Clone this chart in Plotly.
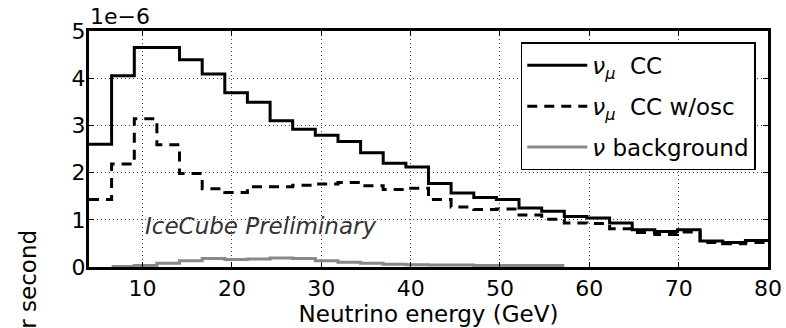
import plotly.graph_objects as go

# Bin edges (GeV)
bin_edges = [4.0, 6.53, 9.07, 11.6, 14.13, 16.67, 19.2, 21.73, 24.27, 26.8,
             29.33, 31.87, 34.4, 36.93, 39.47, 42.0, 44.53, 47.07, 49.6, 52.13,
             54.67, 57.2, 59.73, 62.27, 64.8, 67.33, 69.87, 72.4, 74.93, 77.47, 80.0]

# Rates (units of 1e-6 per second)
numu_cc = [2.60, 4.05, 4.65, 4.65, 4.39, 4.09, 3.69, 3.49, 3.10, 2.92,
           2.79, 2.66, 2.42, 2.20, 2.12, 1.77, 1.57, 1.47, 1.43, 1.25,
           1.18, 1.07, 1.04, 0.93, 0.79, 0.75, 0.79, 0.55, 0.52, 0.56]
numu_cc_osc = [1.43, 2.18, 3.14, 2.59, 1.98, 1.66, 1.58, 1.70, 1.70, 1.73,
               1.76, 1.79, 1.72, 1.64, 1.67, 1.43, 1.27, 1.22, 1.23, 1.10,
               1.01, 0.93, 0.92, 0.81, 0.73, 0.69, 0.74, 0.52, 0.49, 0.52]
nu_background = [0.00, 0.01, 0.03, 0.08, 0.13, 0.18, 0.16, 0.17, 0.19, 0.18,
                 0.13, 0.10, 0.08, 0.06, 0.05, 0.04, 0.04, 0.03, 0.03, 0.03,
                 0.03, 0.00, 0.00, 0.00, 0.00, 0.00, 0.00, 0.00, 0.00, 0.00]

x_ticks = [10, 20, 30, 40, 50, 60, 70, 80]
y_ticks = [0, 1, 2, 3, 4, 5]

FONT = "DejaVu Sans"
TICK_SIZE = 22
LABEL_SIZE = 23


def step_xy(edges, vals, trim_zeros=False):
    lo, hi = 0, len(vals)
    if trim_zeros:
        while lo < hi and vals[lo] == 0:
            lo += 1
        while hi > lo and vals[hi - 1] == 0:
            hi -= 1
    xs = list(edges[lo:hi + 1])
    ys = list(vals[lo:hi]) + [vals[hi - 1]]
    return xs, ys


fig = go.Figure()
x1, y1 = step_xy(bin_edges, numu_cc)
fig.add_trace(go.Scatter(
    x=x1, y=y1, mode="lines", line_shape="hv",
    line=dict(color="black", width=3),
    name="<i>ν</i><sub><i>μ</i></sub>  CC", legendgroup="a"))
x2, y2 = step_xy(bin_edges, numu_cc_osc)
fig.add_trace(go.Scatter(
    x=x2, y=y2, mode="lines", line_shape="hv",
    line=dict(color="black", width=3, dash="10px,7px"),
    name="<i>ν</i><sub><i>μ</i></sub>  CC w/osc", legendgroup="b"))
x3, y3 = step_xy(bin_edges, nu_background, trim_zeros=True)
fig.add_trace(go.Scatter(
    x=x3, y=y3, mode="lines", line_shape="hv",
    line=dict(color="#888888", width=3),
    name="<i>ν</i> background", legendgroup="c"))

axis_common = dict(
    showline=True, linecolor="black", linewidth=3, mirror="ticks",
    ticks="inside", ticklen=5, tickwidth=1, tickcolor="black",
    showgrid=True, gridcolor="#444444", gridwidth=1, griddash="1px,3px",
    zeroline=False, automargin=False,
    tickfont=dict(family=FONT, size=TICK_SIZE, color="black"),
)

fig.update_layout(
    width=786, height=328,
    margin=dict(l=89, r=18, t=31, b=61),
    paper_bgcolor="white", plot_bgcolor="white",
    font=dict(family=FONT, size=LABEL_SIZE, color="black"),
    xaxis=dict(range=[4, 80], tickvals=x_ticks,
               title=dict(text="Neutrino energy (GeV)",
                          font=dict(family=FONT, size=LABEL_SIZE), standoff=1),
               **axis_common),
    yaxis=dict(range=[0, 5], tickvals=y_ticks, ticklabelstandoff=-4, **axis_common),
    legend=dict(x=0.982, y=0.952, xanchor="right", yanchor="top",
                bgcolor="white", bordercolor="black", borderwidth=1.5,
                font=dict(family=FONT, size=LABEL_SIZE, color="black"),
                tracegroupgap=8, itemwidth=60),
    showlegend=True,
)

fig.add_annotation(xref="paper", yref="paper", x=-0.002, y=1.0,
                   xanchor="left", yanchor="bottom", showarrow=False,
                   text="1e\u22126", font=dict(family=FONT, size=22, color="black"))
fig.add_annotation(xref="x", yref="y", x=10, y=0.86, xanchor="left", yanchor="middle",
                   showarrow=False, text="<i>IceCube Preliminary</i>",
                   font=dict(family=FONT, size=LABEL_SIZE, color="#333333"))
fig.add_annotation(xref="paper", yref="paper", x=-0.09, y=-0.05, xanchor="center",
                   yanchor="middle", showarrow=False, textangle=-90,
                   text="r second", font=dict(family=FONT, size=LABEL_SIZE, color="black"))

fig.write_html("out.html")
